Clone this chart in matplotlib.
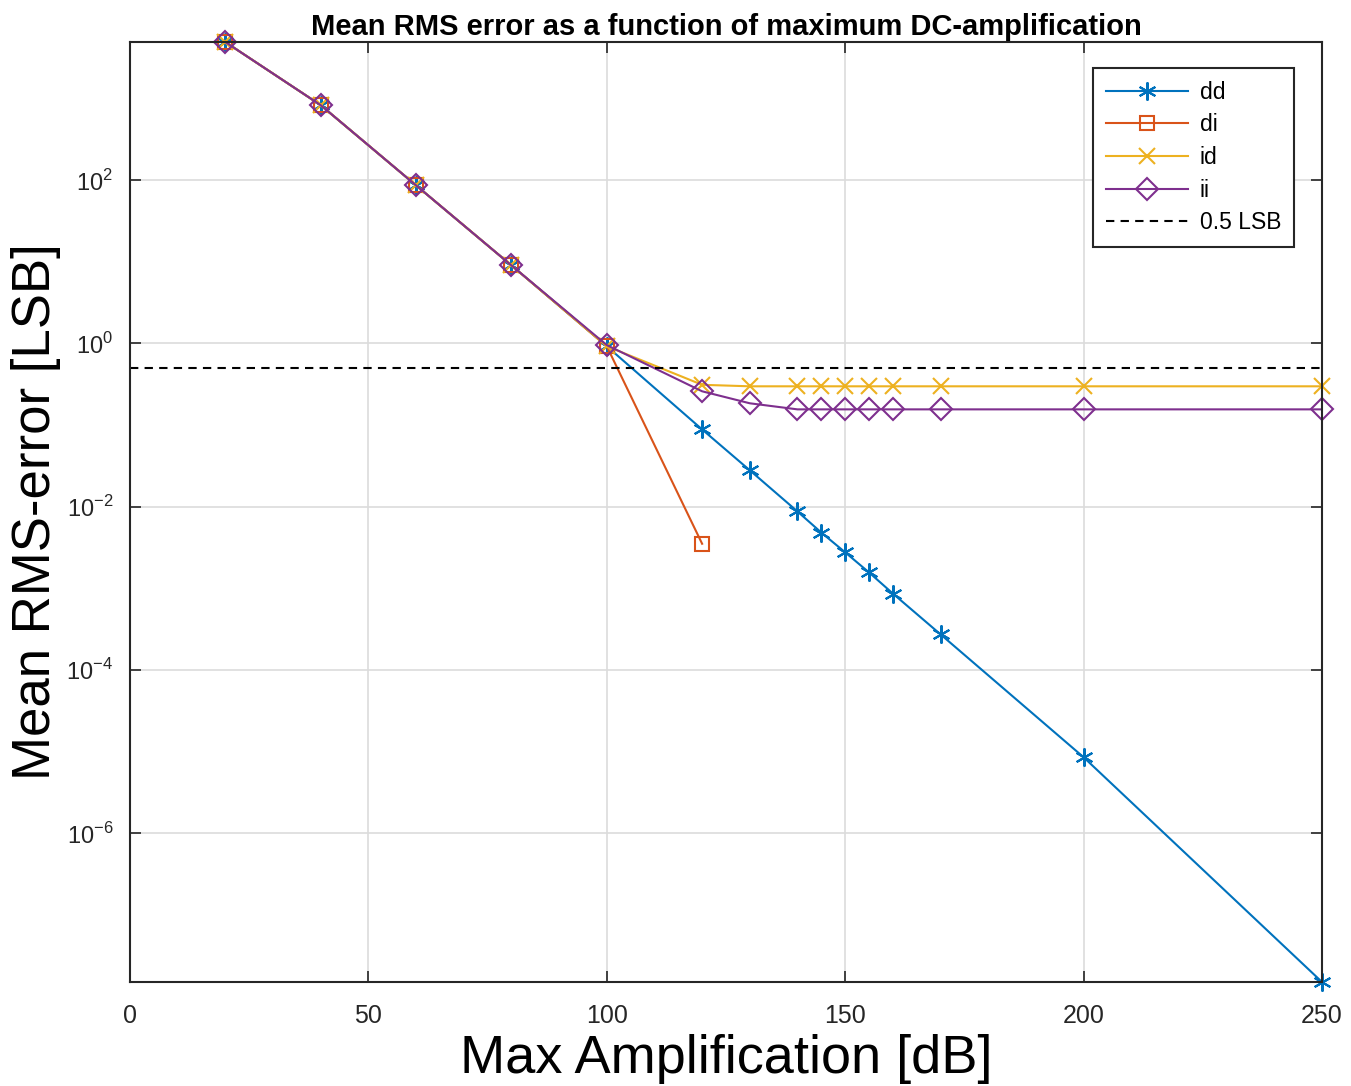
import numpy as np
import matplotlib
matplotlib.use('Agg')
import matplotlib.pyplot as plt

plt.rcParams['font.family'] = ['Liberation Sans', 'DejaVu Sans']
plt.rcParams['mathtext.fontset'] = 'custom'
plt.rcParams['mathtext.rm'] = 'Liberation Sans'

# data
x_all = [20, 40, 60, 80, 100, 120, 130, 140, 145, 150, 155, 160, 170, 200, 250]
dd = [4900, 826, 86, 9.0, 0.92, 0.088, 0.0278, 0.0087, 0.0048, 0.00275,
      0.00156, 0.00086, 0.000272, 8.5e-6, 1.5e-8]
x_di = [20, 40, 60, 80, 100, 120]
di = [4900, 826, 86, 9.0, 0.92, 0.0035]
id_ = [4900, 826, 86, 9.0, 0.92, 0.31, 0.297, 0.297, 0.297, 0.297,
       0.297, 0.297, 0.297, 0.297, 0.297]
ii = [4900, 826, 86, 9.0, 0.95, 0.258, 0.184, 0.155, 0.155, 0.155,
      0.155, 0.155, 0.155, 0.155, 0.155]
lsb_level = 0.5

c_dd = '#0072BD'
c_di = '#D95319'
c_id = '#EDB120'
c_ii = '#7E2F8E'

fig = plt.figure(figsize=(13.51, 10.86), dpi=100)
ax = fig.add_axes([0.0962, 0.0958, 0.8823, 0.8655])

ax.plot(x_all, dd, '-', marker=(6, 2, 0), color=c_dd, lw=1.5, ms=13, mew=1.5,
        label='dd', clip_on=False)
ax.plot(x_di, di, '-s', color=c_di, lw=1.5, ms=10, mew=1.5, mfc='none',
        label='di', clip_on=False)
ax.plot(x_all, id_, '-x', color=c_id, lw=1.5, ms=11, mew=1.5, label='id',
        clip_on=False)
ax.plot(x_all, ii, '-D', color=c_ii, lw=1.5, ms=11, mew=1.5, mfc='none',
        label='ii', clip_on=False)
ax.axhline(lsb_level, color='black', ls='--', lw=1.5, dashes=(4, 3), label='0.5 LSB')

ax.set_yscale('log')
ax.set_xlim(0, 250)
ax.set_ylim(1.5e-8, 4900)
ax.set_xticks([0, 50, 100, 150, 200, 250])
ax.set_yticks([1e-6, 1e-4, 1e-2, 1e0, 1e2])
ax.set_yticklabels(['$10^{-6}$', '$10^{-4}$', '$10^{-2}$', '$10^{0}$', '$10^{2}$'])
ax.yaxis.set_minor_locator(matplotlib.ticker.NullLocator())
ax.grid(True, color='#dcdcdc', lw=1.2)
ax.set_axisbelow(True)
ax.tick_params(direction='in', top=True, right=True, length=8, width=1.2,
               colors='#262626')
ax.tick_params(axis='x', labelsize=18, pad=16)
ax.tick_params(axis='y', labelsize=17, pad=12)
for s in ax.spines.values():
    s.set_linewidth(1.5)
    s.set_color('#262626')

ax.set_title('Mean RMS error as a function of maximum DC-amplification',
             fontsize=21, fontweight='bold', pad=5)
ax.set_xlabel('Max Amplification [dB]', fontsize=39, labelpad=4)
ax.set_ylabel('Mean RMS-error [LSB]', fontsize=38, labelpad=4)

leg = ax.legend(loc='upper right', bbox_to_anchor=(0.9765, 0.9723), fontsize=16.5,
                fancybox=False, edgecolor='#262626', framealpha=1,
                handlelength=3.6, handletextpad=0.5, borderpad=0.55,
                labelspacing=0.42, borderaxespad=0)
leg.get_frame().set_linewidth(1.5)

fig.savefig('out.png', dpi=100)
